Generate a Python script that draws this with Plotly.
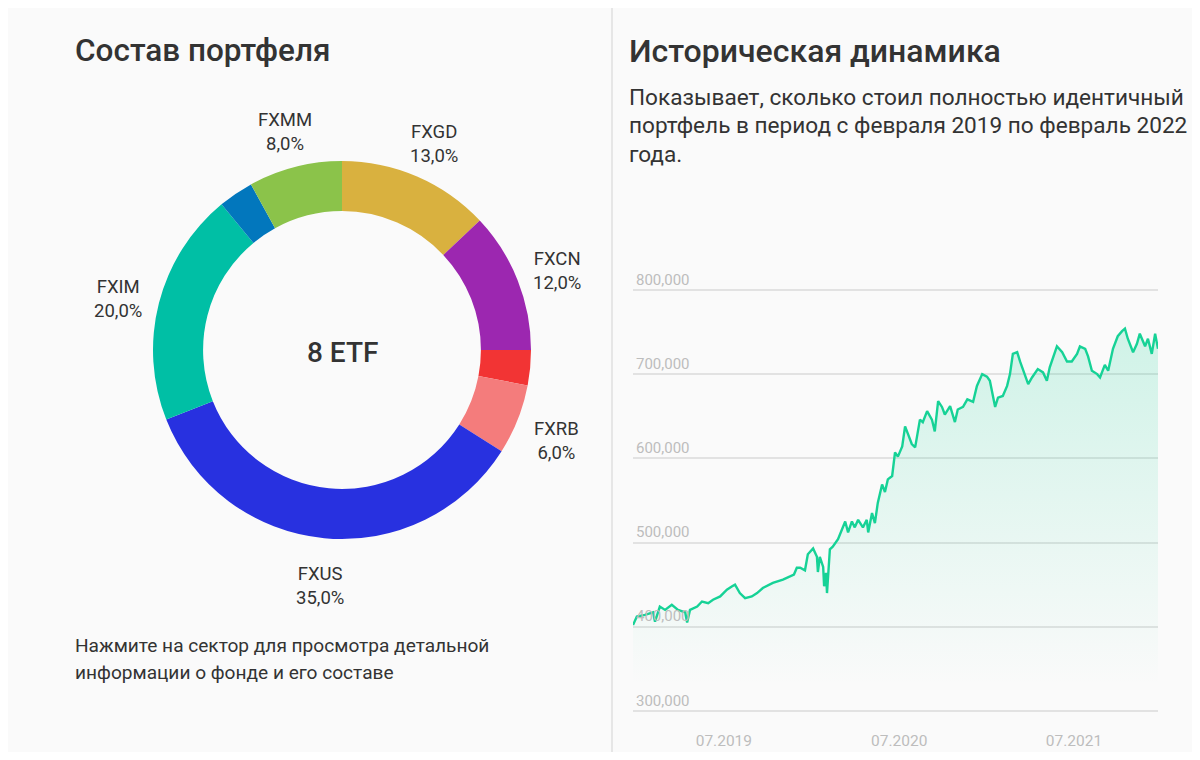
import math
import plotly.graph_objects as go

# ---------------- data ----------------
etf_names = ["FXGD", "FXCN", "FXRL", "FXRB", "FXUS", "FXIM", "FXRU", "FXMM"]
etf_shares = [13.0, 12.0, 3.0, 6.0, 35.0, 20.0, 3.0, 8.0]
etf_show_label = [True, True, False, True, True, True, False, True]
etf_colors = ["#D9B13F", "#9C27B0", "#F23434", "#F47C7C",
              "#2831E0", "#00BFA5", "#0277BD", "#8BC34A"]

dates = [
    "2019-02-01", "2019-02-09", "2019-02-26", "2019-03-15", "2019-03-19", "2019-03-29",
    "2019-04-09", "2019-04-23", "2019-05-06", "2019-05-21", "2019-05-25", "2019-05-31",
    "2019-06-15", "2019-06-25", "2019-07-08", "2019-07-18", "2019-08-02", "2019-08-16",
    "2019-08-27", "2019-09-02", "2019-09-12", "2019-09-23", "2019-10-07", "2019-10-18",
    "2019-10-30", "2019-11-20", "2019-12-11", "2020-01-03", "2020-01-09", "2020-01-16",
    "2020-01-26", "2020-02-01", "2020-02-12", "2020-02-20", "2020-02-22", "2020-02-26",
    "2020-03-04", "2020-03-06", "2020-03-10", "2020-03-12", "2020-03-18", "2020-03-24",
    "2020-04-04", "2020-04-12", "2020-04-19", "2020-04-25", "2020-05-03", "2020-05-09",
    "2020-05-16", "2020-05-26", "2020-06-03", "2020-06-06", "2020-06-14", "2020-06-20",
    "2020-06-26", "2020-07-05", "2020-07-11", "2020-07-17", "2020-07-26", "2020-08-01",
    "2020-08-07", "2020-08-16", "2020-08-22", "2020-08-28", "2020-09-05", "2020-09-12",
    "2020-09-22", "2020-09-28", "2020-10-07", "2020-10-17", "2020-10-23", "2020-10-30",
    "2020-11-07", "2020-11-13", "2020-11-24", "2020-12-04", "2020-12-10", "2020-12-21",
    "2020-12-30", "2021-01-11", "2021-01-19", "2021-01-30", "2021-02-09", "2021-02-15",
    "2021-02-21", "2021-02-26", "2021-03-04", "2021-03-14", "2021-03-23", "2021-03-29",
    "2021-04-04", "2021-04-13", "2021-04-19", "2021-04-25", "2021-05-06", "2021-05-14",
    "2021-05-26", "2021-06-06", "2021-06-14", "2021-06-20", "2021-06-27", "2021-07-05",
    "2021-07-16", "2021-07-26", "2021-08-05", "2021-08-16", "2021-08-22", "2021-09-02",
    "2021-09-08", "2021-09-16", "2021-09-27", "2021-10-03", "2021-10-13", "2021-10-20",
    "2021-10-30", "2021-11-09", "2021-11-18", "2021-11-24", "2021-11-30", "2021-12-11",
    "2021-12-19", "2021-12-25", "2022-01-05", "2022-01-11", "2022-01-19", "2022-01-26",
    "2022-02-01",
]
values = [
    402000, 412000, 414000, 417000, 406000, 424000,
    420000, 426000, 420000, 417000, 405000, 420000,
    424000, 430000, 428000, 432000, 436000, 444000,
    448000, 450000, 440000, 434000, 436000, 440000,
    446000, 452000, 456000, 462000, 470000, 470000,
    467000, 486000, 493000, 483000, 465000, 483000,
    471000, 448000, 464000, 440000, 492000, 495000,
    504000, 515000, 525000, 512000, 525000, 518000,
    527000, 518000, 527000, 512000, 535000, 523000,
    547000, 569000, 560000, 575000, 579000, 607000,
    602000, 614000, 638000, 629000, 617000, 613000,
    646000, 643000, 656000, 646000, 632000, 668000,
    661000, 652000, 662000, 643000, 658000, 661000,
    670000, 667000, 686000, 700000, 697000, 692000,
    674000, 661000, 672000, 674000, 686000, 700000,
    724000, 726000, 715000, 706000, 688000, 696000,
    706000, 702000, 692000, 708000, 721000, 733000,
    726000, 715000, 715000, 724000, 733000, 730000,
    721000, 704000, 700000, 696000, 711000, 704000,
    730000, 745000, 751000, 754000, 742000, 726000,
    736000, 748000, 733000, 742000, 724000, 748000,
    730000,
]
x_tick_vals = ["2019-07-01", "2020-07-01", "2021-07-01"]
x_tick_text = ["07.2019", "07.2020", "07.2021"]
y_tick_vals = [300000, 400000, 500000, 600000, 700000, 800000]

# ---------------- figure ----------------
# the page body adds an 8px margin; size the figure so the page fits the window
OFF = 8
W, H = 1200 - 2 * OFF, 760 - 2 * OFF
FONT = "Roboto"
DARK = "#333333"
LINE = "#16D296"

PIE_CX, PIE_CY, PIE_R = 342, 350, 189   # donut centre / radius in page pixels
LABEL_R = 231                            # distance of slice labels from centre
LABEL_DY = 6                             # small downward nudge of label blocks


def px(x):
    return (x - OFF) / W


def py(y):
    return 1 - (y - OFF) / H


fig = go.Figure()

fig.add_trace(go.Pie(
    labels=etf_names,
    values=etf_shares,
    textinfo="none",
    marker=dict(colors=etf_colors, line=dict(width=0)),
    hole=0.735,
    sort=False,
    direction="clockwise",
    rotation=0,
    automargin=False,
    showlegend=False,
    domain=dict(x=[px(PIE_CX - 230), px(PIE_CX + 230)],
                y=[py(PIE_CY + PIE_R), py(PIE_CY - PIE_R)]),
    hovertemplate="%{label}: %{value:.1f}%<extra></extra>",
))

fig.add_trace(go.Scatter(
    x=dates,
    y=values,
    mode="lines",
    line=dict(color=LINE, width=2.4),
    fill="tozeroy",
    fillgradient=dict(
        type="vertical",
        colorscale=[[0, "rgba(22,210,150,0.0)"], [1, "rgba(22,210,150,0.19)"]],
        start=330000,
        stop=760000,
    ),
    showlegend=False,
    xaxis="x",
    yaxis="y",
    hovertemplate="%{x|%d.%m.%Y}: %{y:,.0f}<extra></extra>",
))

fig.update_layout(
    width=W, height=H,
    margin=dict(l=0, r=0, t=0, b=0, autoexpand=False),
    paper_bgcolor="#FAFAFA",
    plot_bgcolor="#FAFAFA",
    font=dict(family=FONT, color=DARK),
    xaxis=dict(
        domain=[px(633), px(1158)],
        type="date",
        range=["2019-02-01", "2022-02-01"],
        tickvals=x_tick_vals,
        ticktext=x_tick_text,
        ticklabelshift=19,
        ticklabelstandoff=4,
        showgrid=False,
        zeroline=False,
        showline=False,
        ticks="",
        automargin=False,
        tickfont=dict(family=FONT, size=15.5, color="#BDBDBD"),
    ),
    yaxis=dict(
        domain=[py(725), py(268)],
        range=[283300, 826000],
        tickvals=y_tick_vals,
        tickformat=",d",
        ticklabelposition="inside top",
        showgrid=True,
        gridcolor="#E2E2E2",
        gridwidth=2,
        zeroline=False,
        showline=False,
        ticks="",
        automargin=False,
        tickfont=dict(family=FONT, size=15, color="#BDBDBD"),
    ),
    shapes=[dict(
        type="line", xref="paper", yref="paper",
        x0=px(612), x1=px(612), y0=py(757), y1=1,
        line=dict(color="#E6E6E6", width=2),
    )],
)


def ann(text, x, y, size, weight=400, xanchor="left", yanchor="middle", color=DARK):
    fig.add_annotation(
        text=text, x=px(x), y=py(y), xref="paper", yref="paper",
        xanchor=xanchor, yanchor=yanchor, showarrow=False,
        font=dict(family=FONT, size=size, color=color, weight=weight),
    )


# slice labels, centred on each slice's middle angle (clockwise from 12 o'clock)
total = sum(etf_shares)
cum = 0.0
for name, share, show in zip(etf_names, etf_shares, etf_show_label):
    mid = (cum + share / 2) / total * 2 * math.pi
    cum += share
    if not show:
        continue
    lx = PIE_CX + LABEL_R * math.sin(mid)
    ly = PIE_CY - LABEL_R * math.cos(mid) + LABEL_DY
    pct = f"{share:.1f}".replace(".", ",") + "%"
    ann(f"{name}<br>{pct}", lx, ly, 18.5, xanchor="center")

ann("Состав портфеля", 73, 51, 31.5, weight=500)
ann("Историческая динамика", 627, 51, 32, weight=500)
ann("Показывает, сколько стоил полностью идентичный", 627, 97, 22.6)
ann("портфель в период с февраля 2019 по февраль 2022", 627, 126, 22.6)
ann("года.", 627, 155, 22.6)
ann("Нажмите на сектор для просмотра детальной", 73, 645, 19.1)
ann("информации о фонде и его составе", 73, 672, 19.1)
ann("8 ETF", 342, 352, 28, weight=500, xanchor="center")

fig.write_html("out.html")
